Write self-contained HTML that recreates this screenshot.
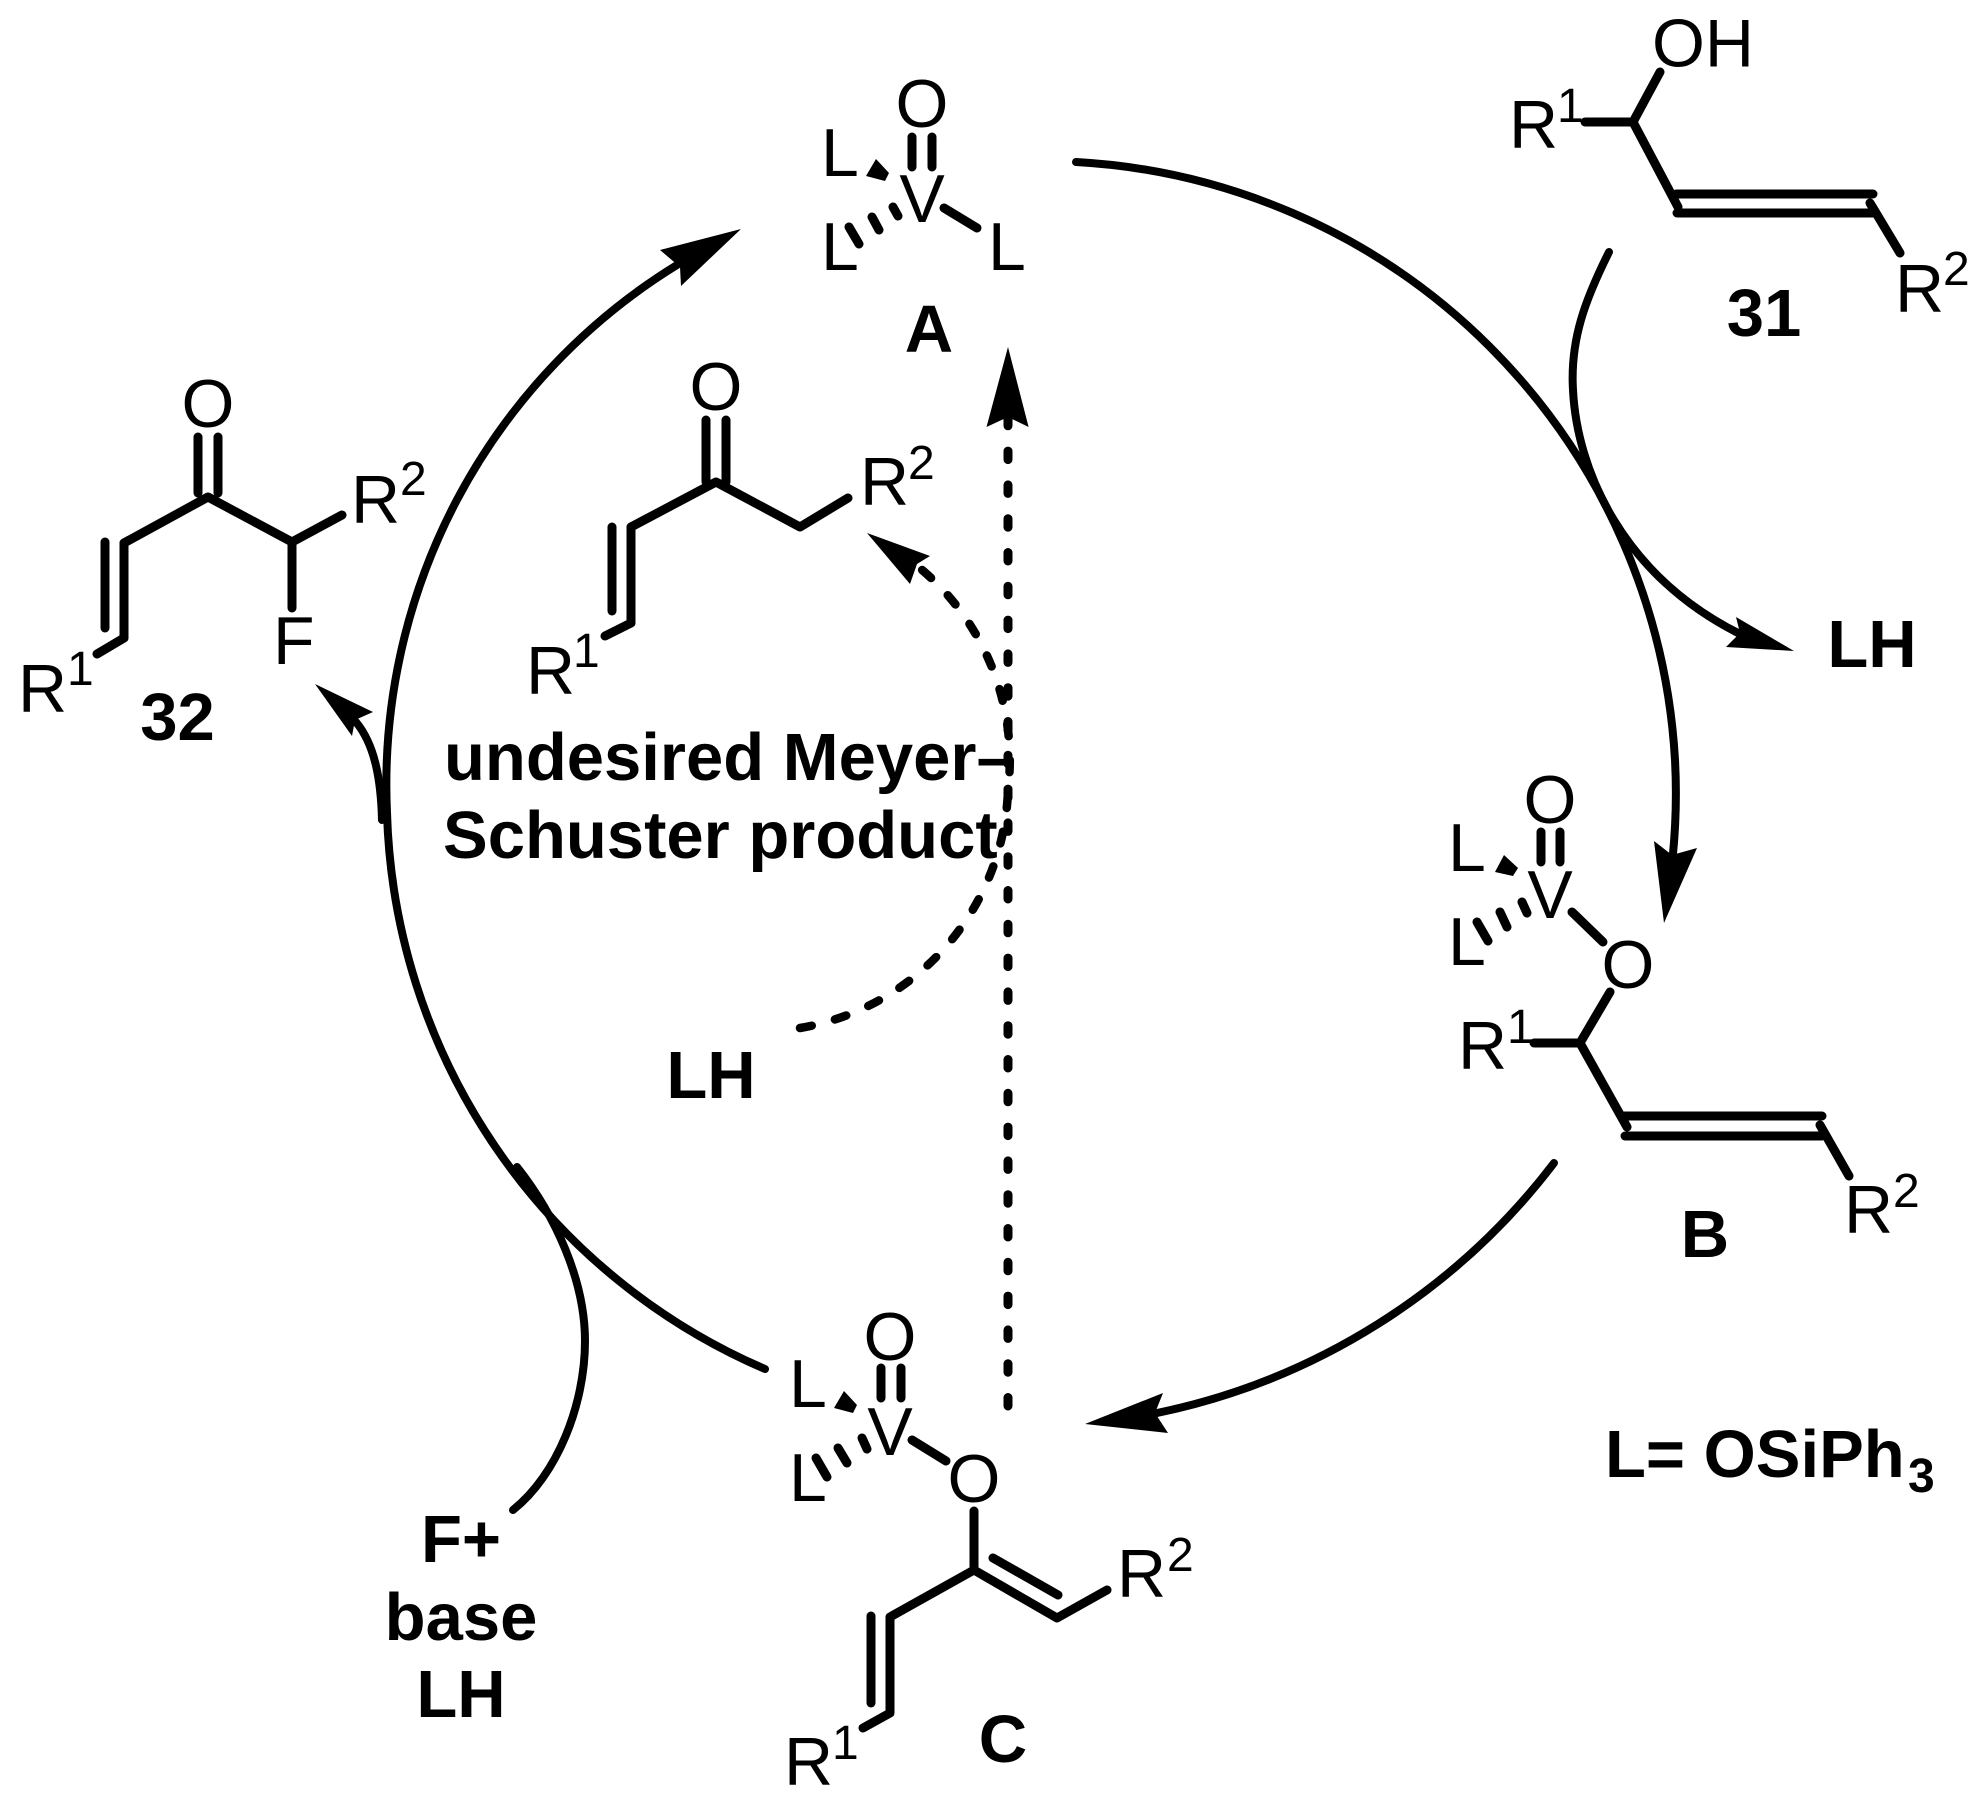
<!DOCTYPE html>
<html>
<head>
<meta charset="utf-8">
<style>
html,body{margin:0;padding:0;background:#fff;width:1985px;height:1807px;overflow:hidden}
svg{display:block}
text{font-family:"Liberation Sans",Arial,sans-serif;fill:#000}
.r{font-size:68px}
.s{font-size:48px}
.b{font-size:67px;font-weight:bold}
.m{text-anchor:middle}
.bond{fill:none;stroke:#000;stroke-width:9;stroke-linecap:round;stroke-linejoin:round}
.arc{fill:none;stroke:#000;stroke-width:8;stroke-linecap:round;stroke-linejoin:round}
</style>
</head>
<body>
<svg width="1985" height="1807" viewBox="0 0 1985 1807" xmlns="http://www.w3.org/2000/svg">
<rect width="1985" height="1807" fill="#fff"/>

<!-- cycle arcs -->
<g class="arc">
<path d="M1076,162 A635 635 0 0 1 1675,760 A635 635 0 0 1 1672.8,856"/>
<path d="M1609,252 C1585,300 1570,340 1573,390 C1577,470 1622,575 1740,634"/>
<path d="M1554,1163 A670 670 0 0 1 1157,1413"/>
<path d="M765,1369 A625 625 0 0 1 387,813 A610 610 0 0 1 677,265"/>
<path d="M382,820 C381,780 375,745 356,722"/>
<path d="M513,1510 C557,1475 585,1405 585,1341 C585,1280 555,1215 517,1167"/>
</g>

<!-- arrowheads -->
<polygon points="1664,923 1654,841 1672,855 1697,848"/>
<polygon points="1794,651 1736,617 1740,633 1726,647"/>
<polygon points="1085,1424 1163,1393 1155,1413 1168,1433"/>
<polygon points="741,229 660,250 680,267 681,286"/>
<polygon points="315,684 373,712 355,720 352,736"/>
<polygon points="1008,347 986.5,427 1008,417 1028.6,427"/>
<polygon points="867,533 930,556 917,564 910,584"/>

<!-- dashed -->
<path d="M1008,1406 L1008,400" fill="none" stroke="#000" stroke-width="9" stroke-linecap="round" stroke-dasharray="8.5 25.3"/>
<path d="M800,1028 A250 250 0 0 0 1008,790 A250 250 0 0 0 921,569" fill="none" stroke="#000" stroke-width="8.5" stroke-linecap="round" stroke-dasharray="12 24"/>

<!-- A -->
<g class="bond">
<path d="M912,137V167M932,137V167"/>
<path d="M944,208L977,228"/>
<path d="M893,207L898,216M872,217L879,230M849,227L859,244"/>
</g>
<polygon points="876,159 889,173 885,181 866,176"/>
<text class="r m" x="922" y="127">O</text>
<text class="r" x="821" y="176">L</text>
<text class="r m" x="922" y="222">V</text>
<text class="r" x="821" y="270">L</text>
<text class="r" x="988" y="270">L</text>
<text class="b m" x="929" y="352">A</text>

<!-- 31 -->
<g class="bond">
<path d="M1585,122H1633L1660,72M1633,122L1678,207"/>
<path d="M1676,194H1873M1677,213H1873"/>
<path d="M1870,203L1900,253"/>
</g>
<text class="r" x="1652" y="66.5">OH</text>
<text class="r" x="1509" y="148">R</text>
<text class="s" x="1557" y="122">1</text>
<text class="r" x="1895" y="312">R</text>
<text class="s" x="1943" y="285">2</text>
<text class="b m" x="1764" y="336">31</text>
<text class="b m" x="1872" y="667">LH</text>

<!-- B -->
<g class="bond">
<path d="M1541,832V862M1560,832V862"/>
<path d="M1572,912L1603,942"/>
<path d="M1522,902L1527,913M1500,912L1507,927M1477,922L1488,941"/>
<path d="M1610,992L1580,1043H1534M1580,1043L1627,1127"/>
<path d="M1624,1116H1822M1625,1136H1822"/>
<path d="M1820,1125L1849,1176"/>
</g>
<polygon points="1504,855 1518,868 1513,876 1495,872"/>
<text class="r m" x="1550" y="823">O</text>
<text class="r" x="1448" y="871">L</text>
<text class="r m" x="1550" y="918">V</text>
<text class="r" x="1448" y="965">L</text>
<text class="r m" x="1628" y="988">O</text>
<text class="r" x="1458" y="1069">R</text>
<text class="s" x="1507" y="1043">1</text>
<text class="r" x="1844" y="1233">R</text>
<text class="s" x="1893" y="1207">2</text>
<text class="b m" x="1705" y="1257">B</text>

<text class="b" x="1605" y="1477">L= OSiPh</text>
<text class="s" x="1908" y="1492" font-weight="bold">3</text>

<!-- C -->
<g class="bond">
<path d="M881,1368V1398M901,1368V1398"/>
<path d="M912,1440L946,1461"/>
<path d="M862,1438L867,1449M838,1448L847,1463M816,1458L827,1477"/>
<path d="M974,1511V1570L890,1617V1713L863,1728"/>
<path d="M871,1616V1703"/>
<path d="M974,1570L1057,1618L1107,1590"/>
<path d="M993,1558L1058,1595"/>
</g>
<polygon points="844,1391 857,1405 853,1413 834,1408"/>
<text class="r m" x="890" y="1360">O</text>
<text class="r" x="789" y="1407">L</text>
<text class="r m" x="890" y="1455">V</text>
<text class="r" x="789" y="1501">L</text>
<text class="r m" x="974" y="1502">O</text>
<text class="r" x="1117" y="1597">R</text>
<text class="s" x="1167" y="1571">2</text>
<text class="r" x="784" y="1785">R</text>
<text class="s" x="832" y="1759">1</text>
<text class="b m" x="1003" y="1762">C</text>

<!-- F+ base LH -->
<text class="b m" x="461" y="1562">F+</text>
<text class="b m" x="461" y="1640">base</text>
<text class="b m" x="461" y="1717">LH</text>

<!-- 32 -->
<g class="bond">
<path d="M198,437V493M218,437V493"/>
<path d="M124,543L208,497L292,542L342,515"/>
<path d="M292,542V608"/>
<path d="M124,543V638L97,654"/>
<path d="M105,542V628"/>
</g>
<text class="r m" x="208" y="427">O</text>
<text class="r" x="273" y="664">F</text>
<text class="r" x="351" y="523">R</text>
<text class="s" x="400" y="495">2</text>
<text class="r" x="18" y="712">R</text>
<text class="s" x="67" y="685">1</text>
<text class="b m" x="177.5" y="740">32</text>

<!-- Meyer-Schuster product -->
<g class="bond">
<path d="M706,420V482M726,420V482"/>
<path d="M631,527L716,482L800,527L848,498"/>
<path d="M631,527V623L605,636"/>
<path d="M612,527V611"/>
</g>
<text class="r m" x="716" y="410">O</text>
<text class="r" x="860" y="505">R</text>
<text class="s" x="908" y="479">2</text>
<text class="r" x="526" y="694">R</text>
<text class="s" x="573" y="667">1</text>
<text class="b" x="444" y="780">undesired Meyer–</text>
<text class="b" x="443" y="858">Schuster product</text>
<text class="b m" x="711" y="1098">LH</text>
</svg>
</body>
</html>
